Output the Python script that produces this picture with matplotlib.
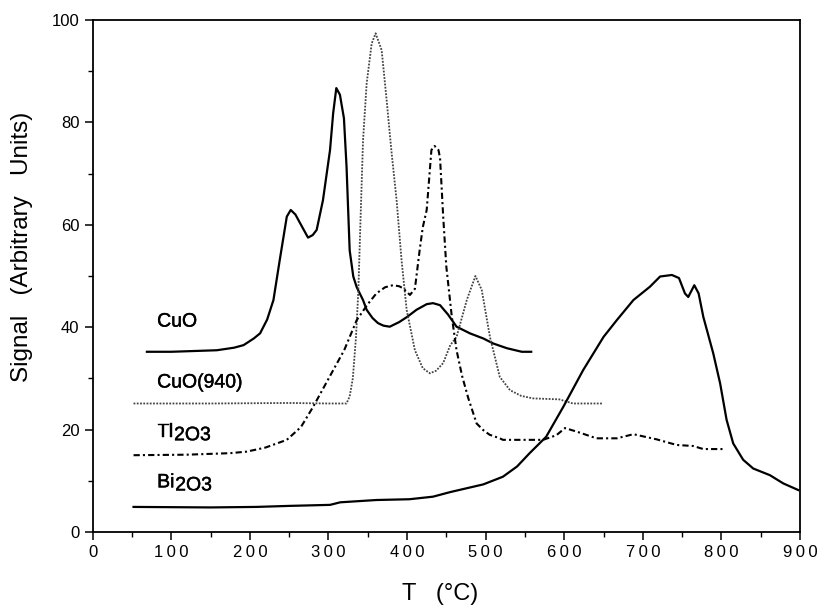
import matplotlib
matplotlib.use("Agg")
import matplotlib.pyplot as plt
import matplotlib.patheffects as pe
from matplotlib.ticker import MultipleLocator

plt.rcParams['font.family'] = ['Liberation Sans', 'DejaVu Sans']

# CuO
t_cuo = [69, 100, 158, 180, 192, 205, 213, 222, 230, 238, 247, 252, 258, 264, 274, 280, 285,
         293, 302, 306, 310, 314.6, 319.7, 323, 327, 331.6, 336, 344, 348.6, 356, 363, 370, 378,
         390, 400, 412, 425, 433, 442, 452, 463, 480, 497, 510, 527, 546, 558]
s_cuo = [35.2, 35.2, 35.5, 36.0, 36.5, 37.8, 38.8, 41.5, 45.3, 53.1, 61.6, 62.9, 62.0, 60.3, 57.5,
         58.0, 59.0, 64.8, 74.6, 81.8, 86.7, 85.4, 80.8, 71.4, 55, 49.9, 47.8, 45.3, 43.4, 41.8,
         40.8, 40.3, 40.1, 41.0, 42.0, 43.4, 44.5, 44.7, 44.3, 42.5, 40.1, 38.8, 37.8, 36.8, 35.9,
         35.2, 35.2]

# CuO(940)
t_cuo940 = [52, 150, 250, 300, 323, 327, 331, 335, 338, 341, 344, 348.6, 355, 360, 367.7, 374,
            380, 386.7, 393, 399.5, 410, 420, 429, 437, 446, 455, 463, 476, 487, 495, 505.5, 518,
            531, 545, 560, 594, 611, 648]
s_cuo940 = [25.1, 25.1, 25.2, 25.1, 25.1, 26.5, 30, 38, 47, 62, 76.5, 87.6, 95.4, 97.4, 94.1,
            84.4, 74.6, 64.8, 53.1, 43.4, 35.5, 32, 31, 31.5, 33, 36.5, 38.1, 45.3, 50, 47.3,
            38.1, 30.3, 27.7, 26.6, 26.1, 25.9, 25.1, 25.1]

# Tl2O3
t_tl = [52, 120, 175, 196, 220, 247, 265, 280.7, 306, 320, 336, 350, 361, 372, 382, 390, 395,
        403.7, 410, 416, 420, 425, 431, 435, 440, 442, 446, 450, 457, 463, 470, 478, 488.5, 497,
        505, 518, 522, 573, 590, 601, 616, 641, 667, 688, 717.5, 743, 764, 777, 802]
s_tl = [15.0, 15.1, 15.4, 15.7, 16.5, 18.0, 20.5, 24.5, 31.6, 35.5, 41.4, 44.5, 46.6, 47.8, 48.2,
        48.0, 47.6, 46.3, 47.5, 55, 59.5, 62.9, 74.6, 75.4, 74.6, 73, 61.6, 51.8, 42, 35.5, 30.5,
        26.1, 21.2, 19.9, 19.0, 18.3, 18.0, 18.0, 18.9, 20.3, 19.6, 18.3, 18.3, 19.1, 18.1, 17.0,
        16.8, 16.2, 16.2]

# Bi2O3
t_bi = [52, 150, 208, 250, 302, 315, 361, 403, 433, 455, 497, 522, 540, 556, 577, 599, 624, 650,
        667, 688, 709, 722, 737, 746, 753.6, 757.8, 765.5, 771, 777, 789.6, 798.4, 806.6, 815,
        827.7, 840.5, 861.7, 878.6, 897.7]
s_bi = [4.9, 4.8, 4.9, 5.1, 5.3, 5.8, 6.25, 6.4, 6.9, 7.8, 9.3, 10.8, 12.8, 15.4, 18.6, 24.5,
        31.6, 38.1, 41.4, 45.3, 47.9, 49.9, 50.2, 49.6, 46.6, 45.9, 48.2, 46.6, 42, 34.9, 29,
        21.9, 17.3, 14.1, 12.4, 11.1, 9.5, 8.2]

x_ticks = [0, 100, 200, 300, 400, 500, 600, 700, 800, 900]
x_ticklabels = ['\u2009'.join(str(v)) for v in x_ticks]

fig = plt.figure(figsize=(8.18, 6.06), dpi=100)
ax = fig.add_axes([0.1133, 0.1221, 0.8647, 0.8449])

ax.plot(t_cuo, s_cuo, color='black', lw=1.6)
ax.plot(t_cuo940, s_cuo940, color='#444444', lw=1.3, linestyle=(0, (1, 0.8)))
ax.plot(t_tl, s_tl, color='black', lw=1.5, linestyle=(0, (3, 1.5, 1, 1.5)))
ax.plot(t_bi, s_bi, color='black', lw=1.6)

thick = [pe.withStroke(linewidth=0.3, foreground='black')]
lab_kw = dict(fontsize=14, ha='left', va='center', path_effects=thick)
sub_kw = dict(fontsize=14, ha='left', va='bottom', path_effects=thick,
              textcoords='offset points')
ax.text(82, 41, 'CuO', **lab_kw)
ax.text(82, 29.1, 'CuO(940)', **lab_kw)
tl = ax.text(82, 19.4, 'Tl', **lab_kw)
ax.annotate('2O3', xy=(1, 0), xycoords=tl, xytext=(0.5, -2.2), **sub_kw)
bi = ax.text(82, 9.6, 'Bi', **lab_kw)
ax.annotate('2O3', xy=(1, 0), xycoords=bi, xytext=(0.5, -2.2), **sub_kw)

ax.set_xlim(0, 900)
ax.set_ylim(0, 100)
ax.set_xticks(x_ticks)
ax.set_xticklabels(x_ticklabels)
ax.xaxis.set_minor_locator(MultipleLocator(50))
ax.yaxis.set_major_locator(MultipleLocator(20))
ax.yaxis.set_minor_locator(MultipleLocator(10))
ax.tick_params(which='major', direction='out', length=6, width=1.1, labelsize=12)
ax.tick_params(which='minor', direction='out', length=3.5, width=1.0)
for sp in ax.spines.values():
    sp.set_linewidth(1.3)

ax.set_xlabel('T   (°C)', fontsize=17)
ax.set_ylabel('Signal   (Arbitrary   Units)', fontsize=17.5)
ax.xaxis.set_label_coords(0.491, -0.1)
ax.yaxis.set_label_coords(-0.085, 0.557)

fig.savefig('out.png', dpi=100)
